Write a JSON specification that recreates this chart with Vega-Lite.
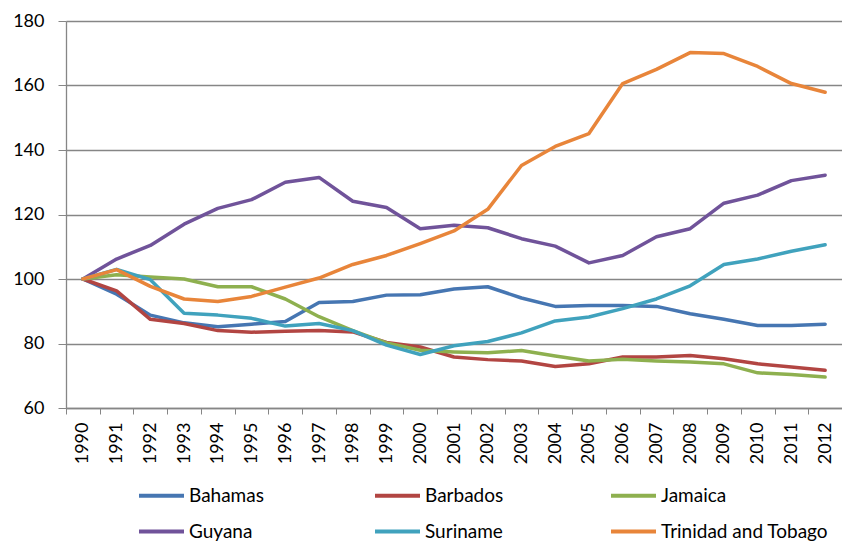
{
  "$schema": "https://vega.github.io/schema/vega-lite/v6.json",
  "width": 776,
  "height": 387,
  "autosize": {"type": "none"},
  "padding": {"left": 66, "top": 21, "right": 0, "bottom": 138},
  "background": "white",
  "config": {"view": {"stroke": null}, "font": "Lato"},
  "data": {"values": [
    {"year":"1990","country":"Bahamas","value":100},
    {"year":"1991","country":"Bahamas","value":95.3},
    {"year":"1992","country":"Bahamas","value":88.8},
    {"year":"1993","country":"Bahamas","value":86.4},
    {"year":"1994","country":"Bahamas","value":85.2},
    {"year":"1995","country":"Bahamas","value":86},
    {"year":"1996","country":"Bahamas","value":86.8},
    {"year":"1997","country":"Bahamas","value":92.7},
    {"year":"1998","country":"Bahamas","value":93},
    {"year":"1999","country":"Bahamas","value":95},
    {"year":"2000","country":"Bahamas","value":95.1},
    {"year":"2001","country":"Bahamas","value":96.9},
    {"year":"2002","country":"Bahamas","value":97.6},
    {"year":"2003","country":"Bahamas","value":94.1},
    {"year":"2004","country":"Bahamas","value":91.5},
    {"year":"2005","country":"Bahamas","value":91.8},
    {"year":"2006","country":"Bahamas","value":91.8},
    {"year":"2007","country":"Bahamas","value":91.5},
    {"year":"2008","country":"Bahamas","value":89.2},
    {"year":"2009","country":"Bahamas","value":87.5},
    {"year":"2010","country":"Bahamas","value":85.6},
    {"year":"2011","country":"Bahamas","value":85.6},
    {"year":"2012","country":"Bahamas","value":86},
    {"year":"1990","country":"Barbados","value":100},
    {"year":"1991","country":"Barbados","value":96.3},
    {"year":"1992","country":"Barbados","value":87.5},
    {"year":"1993","country":"Barbados","value":86.2},
    {"year":"1994","country":"Barbados","value":84},
    {"year":"1995","country":"Barbados","value":83.5},
    {"year":"1996","country":"Barbados","value":83.8},
    {"year":"1997","country":"Barbados","value":84},
    {"year":"1998","country":"Barbados","value":83.6},
    {"year":"1999","country":"Barbados","value":80.3},
    {"year":"2000","country":"Barbados","value":78.9},
    {"year":"2001","country":"Barbados","value":75.8},
    {"year":"2002","country":"Barbados","value":75},
    {"year":"2003","country":"Barbados","value":74.6},
    {"year":"2004","country":"Barbados","value":72.9},
    {"year":"2005","country":"Barbados","value":73.7},
    {"year":"2006","country":"Barbados","value":75.8},
    {"year":"2007","country":"Barbados","value":75.8},
    {"year":"2008","country":"Barbados","value":76.3},
    {"year":"2009","country":"Barbados","value":75.3},
    {"year":"2010","country":"Barbados","value":73.7},
    {"year":"2011","country":"Barbados","value":72.7},
    {"year":"2012","country":"Barbados","value":71.7},
    {"year":"1990","country":"Jamaica","value":100},
    {"year":"1991","country":"Jamaica","value":101.3},
    {"year":"1992","country":"Jamaica","value":100.6},
    {"year":"1993","country":"Jamaica","value":100},
    {"year":"1994","country":"Jamaica","value":97.6},
    {"year":"1995","country":"Jamaica","value":97.6},
    {"year":"1996","country":"Jamaica","value":93.8},
    {"year":"1997","country":"Jamaica","value":88.3},
    {"year":"1998","country":"Jamaica","value":84},
    {"year":"1999","country":"Jamaica","value":80.2},
    {"year":"2000","country":"Jamaica","value":77.9},
    {"year":"2001","country":"Jamaica","value":77.4},
    {"year":"2002","country":"Jamaica","value":77.1},
    {"year":"2003","country":"Jamaica","value":77.8},
    {"year":"2004","country":"Jamaica","value":76.1},
    {"year":"2005","country":"Jamaica","value":74.6},
    {"year":"2006","country":"Jamaica","value":75.1},
    {"year":"2007","country":"Jamaica","value":74.6},
    {"year":"2008","country":"Jamaica","value":74.3},
    {"year":"2009","country":"Jamaica","value":73.7},
    {"year":"2010","country":"Jamaica","value":70.9},
    {"year":"2011","country":"Jamaica","value":70.4},
    {"year":"2012","country":"Jamaica","value":69.6},
    {"year":"1990","country":"Guyana","value":100},
    {"year":"1991","country":"Guyana","value":106.2},
    {"year":"1992","country":"Guyana","value":110.4},
    {"year":"1993","country":"Guyana","value":117},
    {"year":"1994","country":"Guyana","value":121.9},
    {"year":"1995","country":"Guyana","value":124.6},
    {"year":"1996","country":"Guyana","value":130},
    {"year":"1997","country":"Guyana","value":131.5},
    {"year":"1998","country":"Guyana","value":124.1},
    {"year":"1999","country":"Guyana","value":122.2},
    {"year":"2000","country":"Guyana","value":115.6},
    {"year":"2001","country":"Guyana","value":116.7},
    {"year":"2002","country":"Guyana","value":115.9},
    {"year":"2003","country":"Guyana","value":112.5},
    {"year":"2004","country":"Guyana","value":110.2},
    {"year":"2005","country":"Guyana","value":105},
    {"year":"2006","country":"Guyana","value":107.3},
    {"year":"2007","country":"Guyana","value":113.1},
    {"year":"2008","country":"Guyana","value":115.6},
    {"year":"2009","country":"Guyana","value":123.5},
    {"year":"2010","country":"Guyana","value":126},
    {"year":"2011","country":"Guyana","value":130.5},
    {"year":"2012","country":"Guyana","value":132.2},
    {"year":"1990","country":"Suriname","value":100},
    {"year":"1991","country":"Suriname","value":103},
    {"year":"1992","country":"Suriname","value":99.8},
    {"year":"1993","country":"Suriname","value":89.4},
    {"year":"1994","country":"Suriname","value":88.8},
    {"year":"1995","country":"Suriname","value":87.8},
    {"year":"1996","country":"Suriname","value":85.4},
    {"year":"1997","country":"Suriname","value":86.2},
    {"year":"1998","country":"Suriname","value":84},
    {"year":"1999","country":"Suriname","value":79.5},
    {"year":"2000","country":"Suriname","value":76.6},
    {"year":"2001","country":"Suriname","value":79.3},
    {"year":"2002","country":"Suriname","value":80.6},
    {"year":"2003","country":"Suriname","value":83.3},
    {"year":"2004","country":"Suriname","value":87},
    {"year":"2005","country":"Suriname","value":88.2},
    {"year":"2006","country":"Suriname","value":90.8},
    {"year":"2007","country":"Suriname","value":93.8},
    {"year":"2008","country":"Suriname","value":97.9},
    {"year":"2009","country":"Suriname","value":104.5},
    {"year":"2010","country":"Suriname","value":106.2},
    {"year":"2011","country":"Suriname","value":108.6},
    {"year":"2012","country":"Suriname","value":110.6},
    {"year":"1990","country":"Trinidad and Tobago","value":100},
    {"year":"1991","country":"Trinidad and Tobago","value":102.9},
    {"year":"1992","country":"Trinidad and Tobago","value":97.7},
    {"year":"1993","country":"Trinidad and Tobago","value":93.8},
    {"year":"1994","country":"Trinidad and Tobago","value":93},
    {"year":"1995","country":"Trinidad and Tobago","value":94.6},
    {"year":"1996","country":"Trinidad and Tobago","value":97.5},
    {"year":"1997","country":"Trinidad and Tobago","value":100.3},
    {"year":"1998","country":"Trinidad and Tobago","value":104.5},
    {"year":"1999","country":"Trinidad and Tobago","value":107.3},
    {"year":"2000","country":"Trinidad and Tobago","value":111},
    {"year":"2001","country":"Trinidad and Tobago","value":114.9},
    {"year":"2002","country":"Trinidad and Tobago","value":121.6},
    {"year":"2003","country":"Trinidad and Tobago","value":135.2},
    {"year":"2004","country":"Trinidad and Tobago","value":141.1},
    {"year":"2005","country":"Trinidad and Tobago","value":145.1},
    {"year":"2006","country":"Trinidad and Tobago","value":160.6},
    {"year":"2007","country":"Trinidad and Tobago","value":165},
    {"year":"2008","country":"Trinidad and Tobago","value":170.2},
    {"year":"2009","country":"Trinidad and Tobago","value":169.9},
    {"year":"2010","country":"Trinidad and Tobago","value":165.9},
    {"year":"2011","country":"Trinidad and Tobago","value":160.6},
    {"year":"2012","country":"Trinidad and Tobago","value":157.9}
  ]},
  "mark": {"type": "line", "strokeWidth": 3.5, "strokeJoin": "round", "strokeCap": "round"},
  "encoding": {
    "x": {
      "field": "year", "type": "ordinal", "bandPosition": 0.5,
      "scale": {"type": "band", "paddingInner": 0, "paddingOuter": 0},
      "axis": {
        "title": null, "labelAngle": -90, "labelFontSize": 18, "labelColor": "#000000",
        "labelPadding": 8, "tickBand": "extent", "tickSize": 6, "tickColor": "#868686",
        "domainColor": "#868686", "domainWidth": 1.3, "grid": false, "labelFont": "Lato"
      }
    },
    "y": {
      "field": "value", "type": "quantitative",
      "scale": {"domain": [60, 180], "nice": false, "zero": false},
      "axis": {
        "title": null, "values": [60, 80, 100, 120, 140, 160, 180], "labelFontSize": 18,
        "labelColor": "#000000", "labelPadding": 14, "tickSize": 8, "tickColor": "#868686",
        "domainColor": "#868686", "domainWidth": 1.3, "grid": true, "gridColor": "#868686",
        "gridWidth": 1.3, "labelFont": "Lato"
      }
    },
    "color": {
      "field": "country", "type": "nominal",
      "scale": {
        "domain": ["Bahamas", "Barbados", "Jamaica", "Guyana", "Suriname", "Trinidad and Tobago"],
        "range": ["#4676B2", "#B24542", "#8EB04F", "#70539A", "#40A2BD", "#E8853A"]
      },
      "legend": {
        "title": null, "orient": "none", "legendX": 71, "legendY": 450, "direction": "horizontal",
        "columns": 3, "symbolType": "stroke", "symbolSize": 2025, "symbolStrokeWidth": 4,
        "labelFontSize": 19, "labelFont": "Lato", "labelColor": "#000000", "labelOffset": 3,
        "columnPadding": 10, "rowPadding": 1, "gridAlign": "all", "labelLimit": 300
      }
    }
  }
}
